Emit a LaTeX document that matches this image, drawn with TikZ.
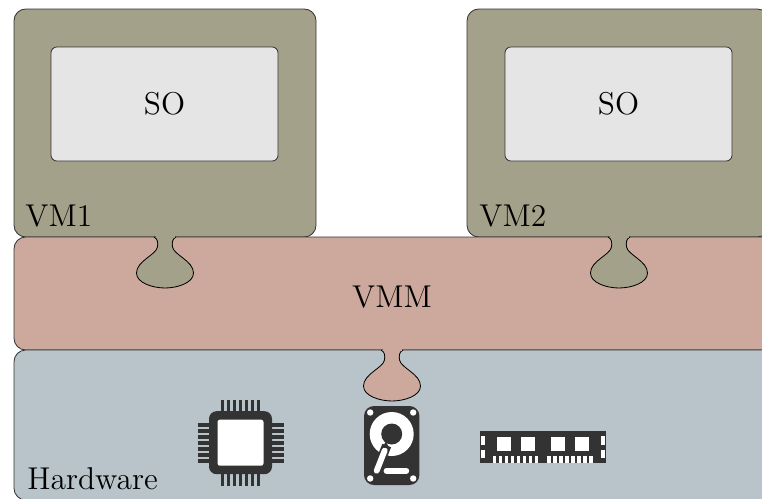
\documentclass[tikz,border=0pt]{standalone}
\usepackage{tikz}
\usetikzlibrary{positioning}
\definecolor{vmcol}{RGB}{163,161,137}
\definecolor{socol}{RGB}{229,229,229}
\definecolor{vmmcol}{RGB}{205,169,157}
\definecolor{hwcol}{RGB}{184,196,202}
\definecolor{iconcol}{RGB}{51,51,51}
\tikzset{
  bloque/.style={draw=black!80,line width=0.7pt,rounded corners=10pt,anchor=north west,inner sep=0pt,outer sep=0pt},
  interior/.style={bloque,fill=socol,rounded corners=5pt,minimum width=6.81cm,minimum height=3.42cm},
  maquina/.style={bloque,fill=vmcol,minimum width=9.06cm,minimum height=6.84cm},
  texto/.style={inner sep=0pt,font=\Large,scale=1.87},
  etiqueta/.style={texto,anchor=base west}
}
\begin{document}
\begin{tikzpicture}[x=0.03cm,y=-0.03cm]
\useasboundingbox (0,0) rectangle (762,498);
\clip (0,0) rectangle (762,498);

% maquinas y capas
\node[maquina] (VM1) at (14,9) {};
\node[maquina, right=4.53cm of VM1.north east, anchor=north west] (VM2) {};
\node[bloque,fill=vmmcol,minimum width=22.8cm,minimum height=3.39cm,below=0pt of VM1.south west,anchor=north west] (VMM) {};
\node[bloque,fill=hwcol,minimum width=22.8cm,minimum height=4.5cm,below=0pt of VMM.south west,anchor=north west] (HW) {};
\node[interior] (SO1) at (51,47) {};
\node[interior] (SO2) at (505,47) {};

\node[texto] (tSO1) at (SO1.center) {SO};
\node[texto] (tSO2) at (SO2.center) {SO};
\node[texto] (tVMM) at (392,297) {VMM};
\node[etiqueta] (tVM1) at (25,226) {VM1};
\node[etiqueta] (tVM2) at (479,226) {VM2};
\node[etiqueta] (tHW) at (27,489.5) {Hardware};

% lenguetas
\foreach \cx/\cy/\col in {165/237/vmcol,619/237/vmcol,392/350/vmmcol}{
  \begin{scope}[shift={(\cx,\cy)}]
    \filldraw[fill=\col,draw=black,line width=0.7pt]
      (-11,0) .. controls (-7,2) and (-7,6) .. (-7.5,10)
      .. controls (-9,18) and (-28.5,24) .. (-28.5,36)
      .. controls (-28.5,46) and (-12,51) .. (0,51)
      .. controls (12,51) and (28.5,46) .. (28.5,36)
      .. controls (28.5,24) and (9,18) .. (7.5,10)
      .. controls (7,6) and (7,2) .. (11,0);
    \fill[\col] (-9.5,-1) rectangle (9.5,1.2);
  \end{scope}
}

% cpu
\begin{scope}[shift={(240.5,442.7)}]
  \fill[iconcol,rounded corners=6.5pt] (-31.5,-31.5) rectangle (31.5,31.5);
  \fill[white,rounded corners=2pt] (-23,-23) rectangle (23,23);
  \foreach \i in {-18,-12,...,18}{
    \draw[iconcol,line width=3.4pt] (\i,-43) -- (\i,-30);
    \draw[iconcol,line width=3.4pt] (\i,30) -- (\i,43);
    \draw[iconcol,line width=3.4pt] (-43,\i) -- (-30,\i);
    \draw[iconcol,line width=3.4pt] (30,\i) -- (43,\i);
  }
\end{scope}

% disco
\begin{scope}[shift={(391.7,445.5)}]
  \fill[iconcol,rounded corners=8.5pt] (-27.7,-39.5) rectangle (27.7,39.5);
  \foreach \sx/\sy in {-21.5/-33,21.5/-33,-21.5/33,21.5/33}
    \fill[white] (\sx,\sy) circle (3.2);
  \fill[white] (0,-11.5) circle (22);
  \fill[iconcol] (0,-11.5) circle (10.5);
  \draw[iconcol,line width=8pt] (-15,25.2) -- (-5,0);
  \draw[white,line width=5pt,line cap=round] (-15,25.2) -- (-7,5);
  \fill[iconcol] (-6,-4) -- (-2,3) -- (-9,2) -- cycle;
  \draw[white,line width=5pt,line cap=round] (-5.2,25.2) -- (14.6,25.2);
\end{scope}

% memoria
\begin{scope}[shift={(480.3,431.3)}]
  \fill[iconcol] (0,0) rectangle (125.4,31.7);
  \foreach \px in {16.4,40.7,71,95}
    \fill[white] (\px,6) rectangle ++(14,14);
  \foreach \ex in {0.4,121}{
    \fill[white] (\ex,4.7) rectangle ++(4,8.7);
    \fill[white] (\ex,18.7) rectangle ++(4,8.3);
  }
  \foreach \i in {0,...,7}{
    \fill[white] (12.4+\i*6,24.7) rectangle ++(3.7,7);
    \fill[white] (67+\i*6,24.7) rectangle ++(3.7,7);
  }
\end{scope}
\end{tikzpicture}
\end{document}
